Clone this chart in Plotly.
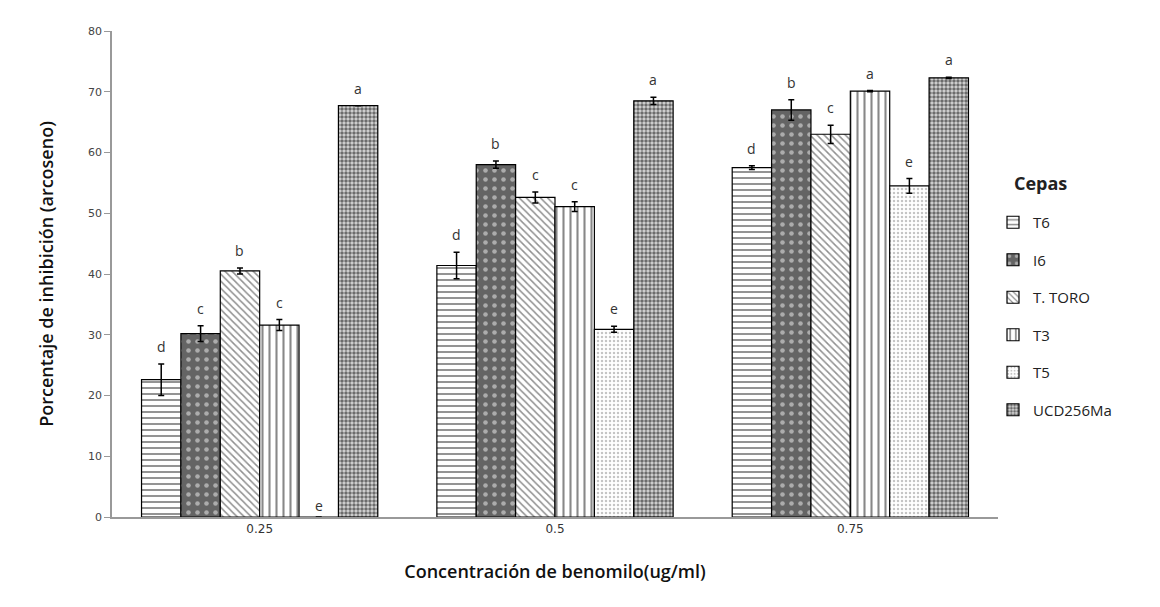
import plotly.graph_objects as go

categories = ["0.25", "0.5", "0.75"]
series_names = ["T6", "I6", "T. TORO", "T3", "T5", "UCD256Ma"]

t6 = [22.6, 41.4, 57.5]
i6 = [30.2, 58.0, 67.0]
ttoro = [40.5, 52.6, 63.0]
t3 = [31.6, 51.1, 70.1]
t5 = [0.0, 30.9, 54.5]
ucd = [67.7, 68.5, 72.3]

t6_err = [2.6, 2.2, 0.3]
i6_err = [1.3, 0.6, 1.7]
ttoro_err = [0.5, 0.9, 1.5]
t3_err = [0.9, 0.8, 0.1]
t5_err = [0.0, 0.5, 1.2]
ucd_err = [0.0, 0.6, 0.1]

t6_let = ["d", "d", "d"]
i6_let = ["c", "b", "b"]
ttoro_let = ["b", "c", "c"]
t3_let = ["c", "c", "a"]
t5_let = ["e", "e", "e"]
ucd_let = ["a", "a", "a"]

values = [t6, i6, ttoro, t3, t5, ucd]
errors = [t6_err, i6_err, ttoro_err, t3_err, t5_err, ucd_err]
letters = [t6_let, i6_let, ttoro_let, t3_let, t5_let, ucd_let]

patterns = [
    dict(shape="-", fgcolor="#111111", bgcolor="white", size=6, solidity=0.3),
    dict(shape=".", fgcolor="#f4f4f4", bgcolor="#646464", size=9, solidity=0.2),
    dict(shape="\\", fgcolor="#222222", bgcolor="white", size=5, solidity=0.3),
    dict(shape="|", fgcolor="#111111", bgcolor="white", size=7, solidity=0.3),
    dict(shape=".", fgcolor="#8a8a8a", bgcolor="white", size=4, solidity=0.3),
    dict(shape=".", fgcolor="#000000", bgcolor="#d8d8d8", size=4, solidity=0.6),
]

fig = go.Figure()
for i, name in enumerate(series_names):
    fig.add_trace(go.Bar(
        name=name,
        x=categories,
        y=values[i],
        legendgroup=name,
        marker=dict(color=patterns[i]["bgcolor"], pattern=patterns[i],
                    line=dict(color="black", width=1.2)),
        error_y=dict(type="data", array=errors[i], visible=True,
                     color="black", thickness=1.5, width=3),
    ))

n = len(series_names)
bargap = 0.2
bw = (1 - bargap) / n
for i in range(n):
    for j, c in enumerate(categories):
        xpos = j - (1 - bargap) / 2 + bw * (i + 0.5)
        top = values[i][j] + errors[i][j]
        fig.add_annotation(
            x=xpos, y=top, xref="x", yref="y",
            text=letters[i][j], showarrow=False,
            yanchor="bottom", yshift=6 if values[i][j] > 0 else 0,
            font=dict(family="Open Sans, DejaVu Sans", size=14, color="#333333"),
        )

plot_w = 1160 - 112 - 162
plot_h = 517 - 31
fig.add_annotation(
    x=(1012 - 112) / plot_w, y=(517 - 183) / plot_h, xref="paper", yref="paper",
    text="<b>Cepas</b>", showarrow=False, xanchor="left", yanchor="middle",
    font=dict(family="Open Sans, DejaVu Sans", size=18, color="#222"),
)

fig.update_layout(
    width=1160, height=607,
    margin=dict(l=112, r=162, t=31, b=90),
    paper_bgcolor="white", plot_bgcolor="white",
    barmode="group", bargap=bargap, bargroupgap=0,
    showlegend=True,
    legend=dict(
        font=dict(family="Open Sans, DejaVu Sans", size=15, color="#222"),
        x=(993 - 112) / plot_w, xanchor="left",
        y=(517 - 206) / plot_h, yanchor="top",
        tracegroupgap=15, itemwidth=30,
    ),
    xaxis=dict(
        type="category",
        range=[-0.5, 2.5],
        showline=True, linecolor="#999999", linewidth=1.5,
        ticks="", tickfont=dict(family="DejaVu Sans", size=12, color="#333"),
        title=dict(text="Concentración de benomilo(ug/ml)",
                   font=dict(family="Open Sans, DejaVu Sans", size=18, color="#111", weight=600),
                   standoff=30),
    ),
    yaxis=dict(
        range=[0, 80], dtick=10,
        showline=True, linecolor="#999999", linewidth=1.5,
        ticks="outside", ticklen=6, tickcolor="#999999",
        showgrid=False, zeroline=False,
        tickfont=dict(family="DejaVu Sans", size=11, color="#444"),
        title=dict(text="Porcentaje de inhibición (arcoseno)",
                   font=dict(family="Open Sans, DejaVu Sans", size=18, color="#111", weight=600),
                   standoff=30),
    ),
)

fig.write_html("out.html")
